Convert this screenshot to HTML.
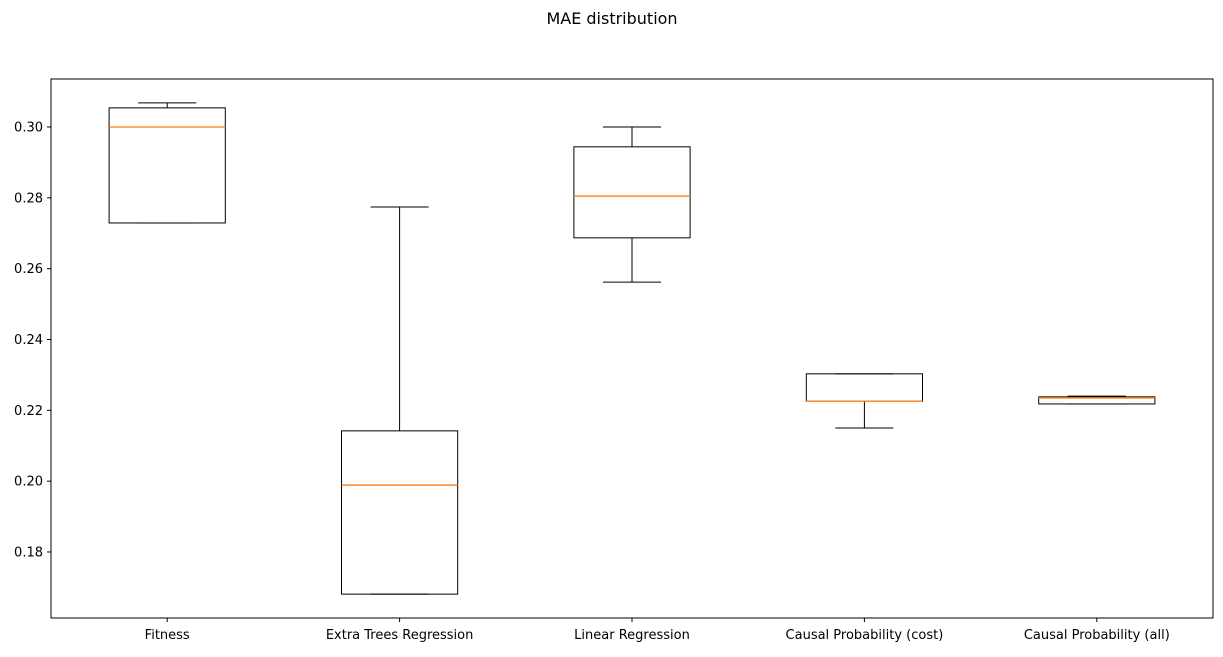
<!DOCTYPE html>
<html><head><meta charset="utf-8"><style>
body{margin:0;background:#fff;}
svg text{font-family:"DejaVu Sans","Liberation Sans",sans-serif;font-size:13px;fill:#000;}
</style></head><body>
<svg width="1223" height="652" xmlns="http://www.w3.org/2000/svg">
<text x="612" y="24" text-anchor="middle" font-size="16" style="font-size:16px">MAE distribution</text>
<g id="plot"></g>
</svg>
<script>
const categories=["Fitness","Extra Trees Regression","Linear Regression","Causal Probability (cost)","Causal Probability (all)"];
const whiskerLow=[0.2729,0.1681,0.2562,0.2150,0.2218];
const q1=[0.2729,0.1681,0.2687,0.2226,0.2218];
const medians=[0.3000,0.1989,0.2805,0.2226,0.2235];
const q3=[0.3054,0.2142,0.2944,0.2303,0.2238];
const whiskerHigh=[0.3068,0.2774,0.3000,0.2303,0.2240];
const yTicks=[0.18,0.20,0.22,0.24,0.26,0.28,0.30];
const L=51,R=1213,T=79,B=618,ymin=0.16136,ymax=0.31355;
const y=v=>B-(v-ymin)/(ymax-ymin)*(B-T);
const x=i=>L+(i+1-0.5)/5*(R-L);
const g=document.getElementById('plot');
const NS="http://www.w3.org/2000/svg";
function mk(tag,a,name){const e=document.createElementNS(NS,tag);for(const k in a)e.setAttribute(k,a[k]);


g.appendChild(e);return e;}
const bw=(R-L)/5*0.5;
categories.forEach((c,i)=>{
 const cx=x(i);
 mk('line',{x1:cx,x2:cx,y1:y(q3[i]),y2:y(whiskerHigh[i]),stroke:'#000'},'whisker-upper');
 mk('line',{x1:cx,x2:cx,y1:y(q1[i]),y2:y(whiskerLow[i]),stroke:'#000'},'whisker-lower');
 mk('line',{x1:cx-bw/4,x2:cx+bw/4,y1:y(whiskerHigh[i]),y2:y(whiskerHigh[i]),stroke:'#000'},'cap-upper');
 mk('line',{x1:cx-bw/4,x2:cx+bw/4,y1:y(whiskerLow[i]),y2:y(whiskerLow[i]),stroke:'#000'},'cap-lower');
 mk('rect',{x:cx-bw/2,y:y(q3[i]),width:bw,height:Math.max(0.5,y(q1[i])-y(q3[i])),fill:'none',stroke:'#000'},'box');
 mk('line',{x1:cx-bw/2,x2:cx+bw/2,y1:y(medians[i]),y2:y(medians[i]),stroke:'#ff7f0e','stroke-width':1.3},'median-line');
 mk('line',{x1:cx,x2:cx,y1:B,y2:B+4,stroke:'#000'},'x-tick');
 const t=mk('text',{x:cx,y:B+21,'text-anchor':'middle'},'x-tick-label');t.textContent=c;
});
yTicks.forEach(v=>{
 mk('line',{x1:L-4,x2:L,y1:y(v),y2:y(v),stroke:'#000'},'y-tick');
 const t=mk('text',{x:L-8,y:y(v)+4.5,'text-anchor':'end'},'y-tick-label');t.textContent=v.toFixed(2);
});
mk('rect',{x:L,y:T,width:R-L,height:B-T,fill:'none',stroke:'#000'},'plot-frame');
</script>
</body></html>
